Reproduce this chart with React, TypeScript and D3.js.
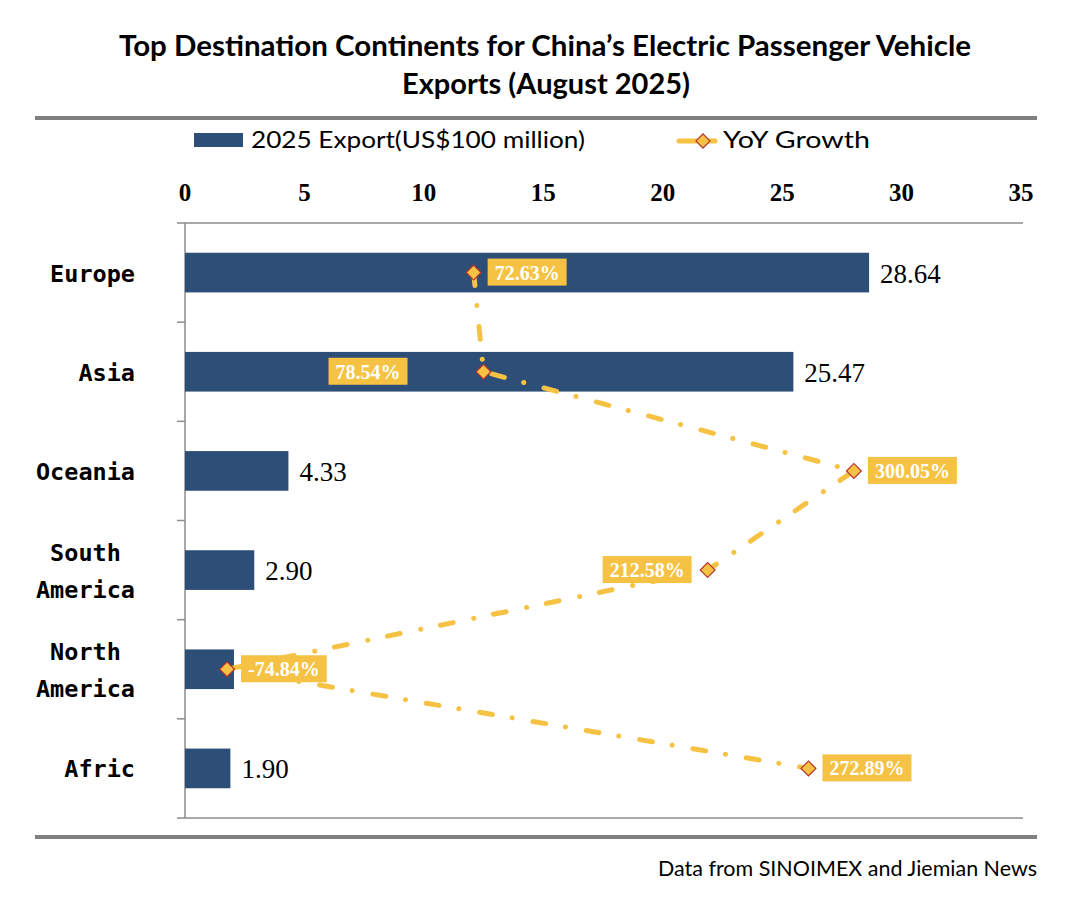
import React, { useEffect, useRef } from "react";
import * as d3 from "d3";

// chart values
const categories = ["Europe", "Asia", "Oceania", "South America", "North America", "Afric"];
const exportValues = [28.64, 25.47, 4.33, 2.9, 2.05, 1.9];
const yoyGrowth = [72.63, 78.54, 300.05, 212.58, -74.84, 272.89];
const xTicks = [0, 5, 10, 15, 20, 25, 30, 35];

const BAR = "#2D4E76";
const GOLD = "#F6C244";
const RULE = "#808080";

const App = () => {
  const ref = useRef<SVGSVGElement>(null);

  useEffect(() => {
    const svg = d3.select(ref.current);
    svg.selectAll("*").remove();

    const left = 185;
    const right = 1021;
    const top = 223;
    const bottom = 818;

    const x = d3.scaleLinear().domain([0, 35]).range([left, right]);
    const x2 = d3.scaleLinear().domain([-100, 400]).range([left, right]);
    const y = d3
      .scaleBand<string>()
      .domain(categories)
      .range([top, bottom])
      .paddingInner(0.6)
      .paddingOuter(0.3);
    const step = (bottom - top) / categories.length;
    const cy = (c: string) => (y(c) as number) + y.bandwidth() / 2;

    // title
    const title = svg
      .append("g")
      .attr("font-family", "Lato, sans-serif")
      .attr("font-weight", "bold")
      .attr("font-size", 28)
      .attr("text-anchor", "middle")
      .attr("fill", "#000");
    title
      .append("text")
      .attr("x", 545)
      .attr("y", 56)
      .attr("textLength", 852)
      .attr("lengthAdjust", "spacingAndGlyphs")
      .text("Top Destination Continents for China\u2019s Electric Passenger Vehicle");
    title
      .append("text")
      .attr("x", 546)
      .attr("y", 94)
      .attr("textLength", 288)
      .attr("lengthAdjust", "spacingAndGlyphs")
      .text("Exports (August 2025)");

    // thick rules
    svg.append("line").attr("x1", 35).attr("x2", 1037).attr("y1", 118).attr("y2", 118)
      .attr("stroke", RULE).attr("stroke-width", 4);
    svg.append("line").attr("x1", 35).attr("x2", 1037).attr("y1", 837).attr("y2", 837)
      .attr("stroke", RULE).attr("stroke-width", 4);

    // legend
    const lg = svg.append("g").attr("font-family", "Lato, sans-serif").attr("font-size", 23);
    lg.append("rect").attr("x", 194).attr("y", 133).attr("width", 49).attr("height", 14).attr("fill", BAR);
    lg.append("text").attr("x", 251).attr("y", 148).attr("textLength", 334)
      .attr("lengthAdjust", "spacingAndGlyphs").text("2025 Export(US$100 million)");
    lg.append("line").attr("x1", 679).attr("x2", 715).attr("y1", 141).attr("y2", 141)
      .attr("stroke", GOLD).attr("stroke-width", 5).attr("stroke-linecap", "round");
    lg.append("path")
      .attr("d", d3.symbol(d3.symbolSquare, 100)())
      .attr("transform", "translate(703,141) rotate(45)")
      .attr("fill", GOLD).attr("stroke", "#B8322A").attr("stroke-width", 1.2);
    lg.append("text").attr("x", 723).attr("y", 148).attr("textLength", 147)
      .attr("lengthAdjust", "spacingAndGlyphs").text("YoY Growth");

    // x ticks (top)
    svg
      .append("g")
      .attr("font-family", "'Liberation Serif', 'Times New Roman', serif")
      .attr("font-weight", "bold")
      .attr("font-size", 25)
      .attr("text-anchor", "middle")
      .selectAll("text")
      .data(xTicks)
      .enter()
      .append("text")
      .attr("x", (d) => x(d))
      .attr("y", 201)
      .text((d) => d);

    // plot frame
    const frame = svg.append("g").attr("stroke", "#8C8C8C").attr("stroke-width", 1.5);
    frame.append("line").attr("x1", left - 8).attr("x2", 1023).attr("y1", top).attr("y2", top);
    frame.append("line").attr("x1", left - 8).attr("x2", 1023).attr("y1", bottom).attr("y2", bottom);
    frame.append("line").attr("x1", left).attr("x2", left).attr("y1", top).attr("y2", bottom);
    frame
      .selectAll("line.tick")
      .data(d3.range(1, categories.length))
      .enter()
      .append("line")
      .attr("class", "tick")
      .attr("x1", left - 8)
      .attr("x2", left)
      .attr("y1", (i) => top + i * step)
      .attr("y2", (i) => top + i * step);

    // category labels
    const catG = svg
      .append("g")
      .attr("font-family", "'DejaVu Sans Mono', monospace")
      .attr("font-weight", "bold")
      .attr("font-size", 23.5)
      .attr("fill", "#000");
    const charW = 23.5 * 0.602;
    categories.forEach((c) => {
      const lines = c.split(" ");
      const maxLen = d3.max(lines, (l) => l.length) as number;
      const cx = 135 - (maxLen * charW) / 2;
      const lineH = 37;
      const t = catG.append("text").attr("text-anchor", "middle");
      lines.forEach((l, i) => {
        t.append("tspan")
          .attr("x", cx)
          .attr("y", cy(c) + 9 + (i - (lines.length - 1) / 2) * lineH)
          .text(l);
      });
    });

    // bars
    svg
      .append("g")
      .selectAll("rect")
      .data(categories)
      .enter()
      .append("rect")
      .attr("x", x(0))
      .attr("y", (c) => y(c) as number)
      .attr("width", (_, i) => x(exportValues[i]) - x(0))
      .attr("height", y.bandwidth())
      .attr("fill", BAR);

    // bar values
    svg
      .append("g")
      .attr("font-family", "'Liberation Serif', 'Times New Roman', serif")
      .attr("font-size", 27)
      .attr("fill", "#000")
      .selectAll("text")
      .data(categories)
      .enter()
      .append("text")
      .attr("x", (_, i) => x(exportValues[i]) + 11)
      .attr("y", (c) => cy(c) + 10)
      .text((_, i) => exportValues[i].toFixed(2));

    // growth line
    const pts: [number, number][] = categories.map((c, i) => [x2(yoyGrowth[i]), cy(c)]);
    svg
      .append("path")
      .attr("d", d3.line()(pts))
      .attr("fill", "none")
      .attr("stroke", GOLD)
      .attr("stroke-width", 5)
      .attr("stroke-linecap", "round")
      .attr("stroke-dasharray", "13 20 0.1 21");

    svg
      .append("g")
      .selectAll("path")
      .data(pts)
      .enter()
      .append("path")
      .attr("d", d3.symbol(d3.symbolSquare, 110)())
      .attr("transform", (p) => `translate(${p[0]},${p[1]}) rotate(45)`)
      .attr("fill", GOLD)
      .attr("stroke", "#B8322A")
      .attr("stroke-width", 1.2);

    // growth labels: most sit to the right of the marker
    const leftGap: Record<string, number> = { Asia: 76, "South America": 16 };
    const lab = svg
      .append("g")
      .attr("font-family", "'Liberation Serif', 'Times New Roman', serif")
      .attr("font-weight", "bold")
      .attr("font-size", 20)
      .attr("fill", "#fff");
    categories.forEach((c, i) => {
      const [px, py] = pts[i];
      const g = lab.append("g");
      const t = g
        .append("text")
        .attr("text-anchor", "middle")
        .attr("y", py + 7)
        .text(yoyGrowth[i].toFixed(2) + "%");
      const w = (t.node() as SVGTextElement).getComputedTextLength() + 14;
      const bx = c in leftGap ? px - leftGap[c] - w : px + 14;
      t.attr("x", bx + w / 2);
      g.insert("rect", "text")
        .attr("x", bx)
        .attr("y", py - 14)
        .attr("width", w)
        .attr("height", 27)
        .attr("fill", GOLD);
    });

    // footer
    svg
      .append("text")
      .attr("x", 1037)
      .attr("y", 876)
      .attr("text-anchor", "end")
      .attr("font-family", "Lato, sans-serif")
      .attr("font-size", 21)
      .attr("textLength", 379)
      .attr("lengthAdjust", "spacingAndGlyphs")
      .text("Data from SINOIMEX and Jiemian News");
  }, []);

  return (
    <svg
      ref={ref}
      width={1084}
      height={916}
      style={{ position: "absolute", left: 0, top: 0, background: "#fff" }}
    />
  );
};

export default App;
